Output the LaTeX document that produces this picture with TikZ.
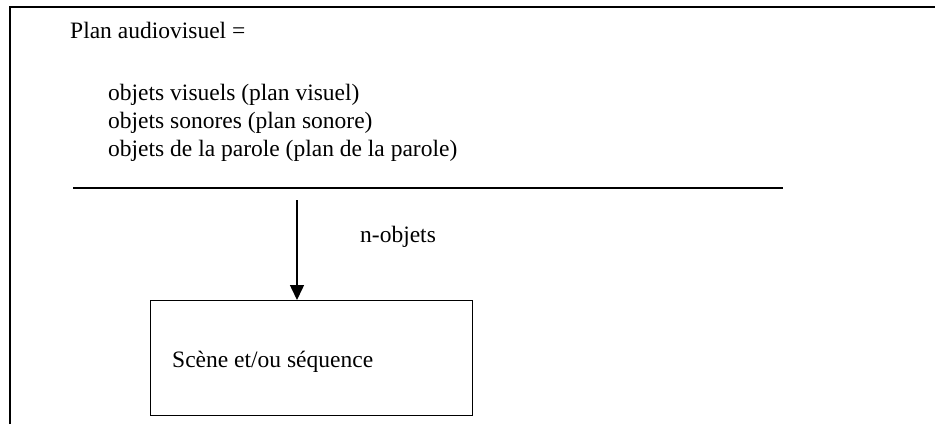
\documentclass[tikz,border=0pt]{standalone}
\usepackage{fontspec}
\setmainfont{Liberation Serif}
\usetikzlibrary{arrows.meta}

\tikzset{
    txt/.style={anchor=west, inner sep=0pt, font=\fontsize{23.5}{27}\selectfont},
    scenebox/.style={draw, line width=1.4pt, minimum width=322pt, minimum height=115pt, anchor=north west}
}

\begin{document}
\begin{tikzpicture}[x=1pt, y=-1pt]
    \useasboundingbox (0, 0) rectangle (935, 424);

    % cadre
    \draw[line width = 2.2pt] (10, 424) -- (10, 7) -- (935, 7);

    \node[txt] (plan) at (70, 30) {Plan audiovisuel =};
    \node[txt] (visuel) at (108, 95) {objets visuels (plan visuel)};
    \node[txt] (sonore) at (108, 123) {objets sonores (plan sonore)};
    \node[txt] (parole) at (108, 151) {objets de la parole (plan de la parole)};

    \coordinate (sepA) at (73, 188);
    \coordinate (sepB) at (783, 188);
    \draw[line width = 1.5pt] (sepA) -- (sepB);

    %% scene
    \node[scenebox] (scene) at (150, 300) {};
    \node[txt] (scenetxt) at (172, 362) {Scène et/ou séquence};

    \coordinate (top) at (297, 200);
    \draw[-{Triangle[width=14pt, length=15pt]}, line width=1.5pt]
    (top)
    --
    (scene.north west -| top) ;
    \node[txt] (nobj) at (360, 237) {n-objets};
\end{tikzpicture}
\end{document}
